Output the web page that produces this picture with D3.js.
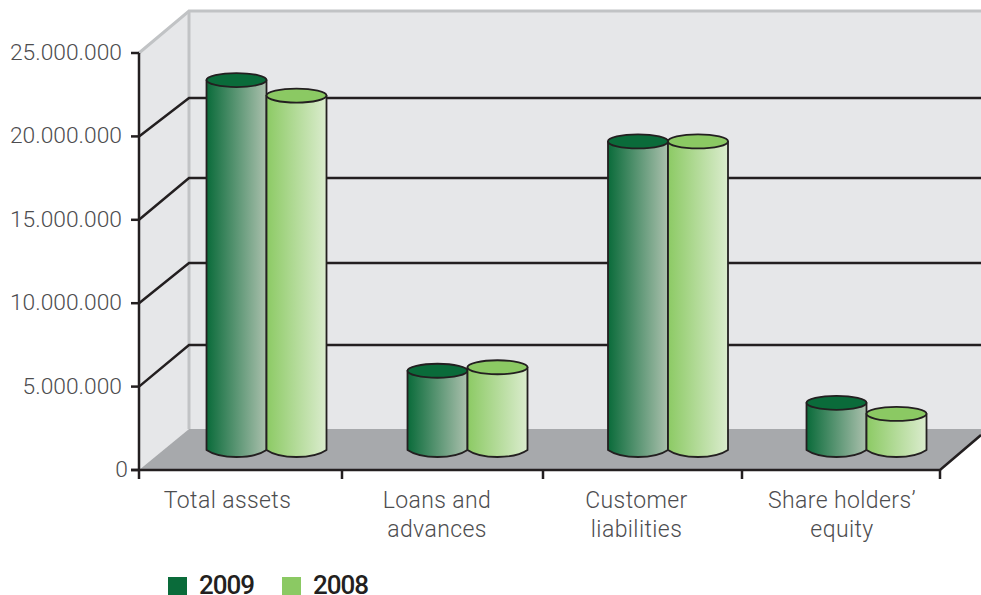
<!DOCTYPE html>
<html>
<head>
<meta charset="utf-8">
<script src="https://d3js.org/d3.v7.min.js"></script>
<style>
html,body{margin:0;padding:0;background:#fff;overflow:hidden}
svg{display:block}
text{font-family:Roboto,sans-serif}
</style>
</head>
<body>
<svg id="chart" width="981" height="595"></svg>
<script>
// Balance sheet figures by year
const categories = ["Total assets", "Loans and advances", "Customer liabilities", "Share holders' equity"];
const categoryLines = [["Total assets"], ["Loans and", "advances"], ["Customer", "liabilities"], ["Share holders’", "equity"]];
const series2009 = [22180000, 4750000, 18500000, 2830000];
const series2008 = [21250000, 4960000, 18500000, 2170000];
const years = ["2009", "2008"];
const yTicks = [0, 5000000, 10000000, 15000000, 20000000, 25000000];
const tickLabels = ["0", "5.000.000", "10.000.000", "15.000.000", "20.000.000", "25.000.000"];

const ink = "#231f20";
const wallFill = "#e6e7e9";
const wallEdge = "#c1c3c5";
const floorFill = "#a7a9ac";
const textFill = "#4d4d4f";

// Projection of the box: the back wall is shifted right and up from the front plane
const backDx = 50;
const midDy = -20;           // cylinders stand half way into the floor
const barW = 60, ry = 7;

const y = d3.scaleLinear().domain([0, 25000000]).range([470, 53]);
const yBack = d3.scaleLinear().domain(yTicks).range([429, 345, 263, 178, 98, 11]);
const xEdge = d3.scaleOrdinal().domain(d3.range(5)).range([139, 342, 543, 742, 940]);
const xGroup = d3.scaleOrdinal().domain(categories).range([266.5, 467.5, 668, 866.5]);
const xLabel = d3.scaleOrdinal().domain(categories).range([227.5, 437, 636.5, 842]);
const rightEdge = 981;

const svg = d3.select("#chart");
const defs = svg.append("defs");

function gradient(id, from, to) {
  const g = defs.append("linearGradient").attr("id", id);
  g.append("stop").attr("offset", "0%").attr("stop-color", from);
  g.append("stop").attr("offset", "100%").attr("stop-color", to);
}
gradient("side2009", "#0a6b3a", "#abc0ad");
gradient("side2008", "#8cca64", "#dbecce");

const x0 = xEdge(0), x1 = xEdge(4), xb = x0 + backDx;
const yBase = y(0), yTop = y(25000000);
const backTop = yBack(25000000), floorBack = yBack(0);
const line = d3.line();

// Back wall, side wall and floor
svg.append("path")
  .attr("d", line([[xb, backTop], [rightEdge, backTop], [rightEdge, floorBack], [xb, floorBack]]) + "Z")
  .attr("fill", wallFill);
svg.append("path")
  .attr("d", line([[x0, yTop], [xb, backTop], [xb, floorBack], [x0, yBase]]) + "Z")
  .attr("fill", wallFill);
svg.append("path")
  .attr("d", line([[x0, yBase], [xb, floorBack], [rightEdge, floorBack], [rightEdge, floorBack + 6], [x1, yBase]]) + "Z")
  .attr("fill", floorFill);

// Light wall outline
svg.append("path")
  .attr("d", line([[x0, yTop], [xb, backTop], [rightEdge, backTop]]))
  .attr("fill", "none").attr("stroke", wallEdge).attr("stroke-width", 3);
svg.append("path")
  .attr("d", line([[xb, backTop], [xb, floorBack]]))
  .attr("fill", "none").attr("stroke", wallEdge).attr("stroke-width", 3);

// Gridlines run along the side wall and across the back wall
svg.append("g").selectAll("path")
  .data(yTicks.filter(t => t > 0 && t < 25000000))
  .join("path")
  .attr("d", t => line([[x0, y(t)], [xb, yBack(t)], [rightEdge, yBack(t)]]))
  .attr("fill", "none").attr("stroke", ink).attr("stroke-width", 2.5);

// Front axes and tick marks
svg.append("path")
  .attr("d", line([[x0, yTop], [x0, yBase + 9]]))
  .attr("stroke", ink).attr("stroke-width", 2.5).attr("fill", "none");
svg.append("path")
  .attr("d", line([[x0 - 8, yBase], [x1, yBase], [rightEdge, floorBack + 6]]))
  .attr("stroke", ink).attr("stroke-width", 2.5).attr("fill", "none");
svg.append("g").selectAll("line")
  .data(yTicks)
  .join("line")
  .attr("x1", x0 - 8).attr("x2", x0)
  .attr("y1", d => y(d)).attr("y2", d => y(d))
  .attr("stroke", ink).attr("stroke-width", 2.5);
svg.append("g").selectAll("line")
  .data(d3.range(1, 5))
  .join("line")
  .attr("x1", d => xEdge(d)).attr("x2", d => xEdge(d))
  .attr("y1", yBase).attr("y2", yBase + 9)
  .attr("stroke", ink).attr("stroke-width", 2.5);

// Value axis labels
svg.append("g").selectAll("text")
  .data(yTicks)
  .join("text")
  .attr("x", d => d === 0 ? x0 - 11 : x0 - 17)
  .attr("y", d => y(d) + 7)
  .attr("text-anchor", "end")
  .attr("font-size", 22.8).attr("font-weight", 300).attr("fill", textFill)
  .text((d, i) => tickLabels[i]);

// Cylinders
function cylinderSide(cx, topY, bottom) {
  const rx = barW / 2;
  const p = d3.path();
  p.moveTo(cx - rx, topY);
  p.lineTo(cx - rx, bottom);
  p.bezierCurveTo(cx - rx * 0.55, bottom + ry * 1.33, cx + rx * 0.55, bottom + ry * 1.33, cx + rx, bottom);
  p.lineTo(cx + rx, topY);
  p.closePath();
  return p.toString();
}
function drawSeries(values, offset, year, capFill) {
  const g = svg.append("g").selectAll("g").data(values).join("g");
  g.append("path")
    .attr("d", (v, i) => cylinderSide(xGroup(categories[i]) + offset, y(v) + midDy, yBase + midDy))
    .attr("fill", `url(#side${year})`)
    .attr("stroke", ink).attr("stroke-width", 1.8).attr("stroke-linejoin", "round");
  g.append("ellipse")
    .attr("cx", (v, i) => xGroup(categories[i]) + offset)
    .attr("cy", v => y(v) + midDy)
    .attr("rx", barW / 2).attr("ry", ry)
    .attr("fill", capFill)
    .attr("stroke", ink).attr("stroke-width", 1.8);
}
drawSeries(series2009, -barW / 2, "2009", "#0a6b3a");
drawSeries(series2008, barW / 2, "2008", "#8bc963");

// Category labels
const labels = svg.append("g").selectAll("text")
  .data(categories)
  .join("text")
  .attr("text-anchor", "middle")
  .attr("font-size", 23).attr("font-weight", 300).attr("letter-spacing", 0.4).attr("fill", textFill);
labels.selectAll("tspan")
  .data((d, i) => categoryLines[i].map(t => ({ t, c: d })))
  .join("tspan")
  .attr("x", d => xLabel(d.c))
  .attr("y", (d, i) => 508 + i * 29)
  .text(d => d.t);

// Legend
const legendX = d3.scaleOrdinal().domain(years).range([168, 282]);
const legendColor = d3.scaleOrdinal().domain(years).range(["#0a6b3a", "#8bc963"]);
const legend = svg.append("g").selectAll("g").data(years).join("g");
legend.append("rect")
  .attr("x", d => legendX(d)).attr("y", 577)
  .attr("width", 19).attr("height", 18)
  .attr("fill", d => legendColor(d));
legend.append("text")
  .attr("x", d => legendX(d) + 31).attr("y", 594)
  .attr("font-size", 26).attr("font-weight", 500).attr("letter-spacing", -1).attr("fill", ink)
  .text(d => d);
</script>
</body>
</html>
